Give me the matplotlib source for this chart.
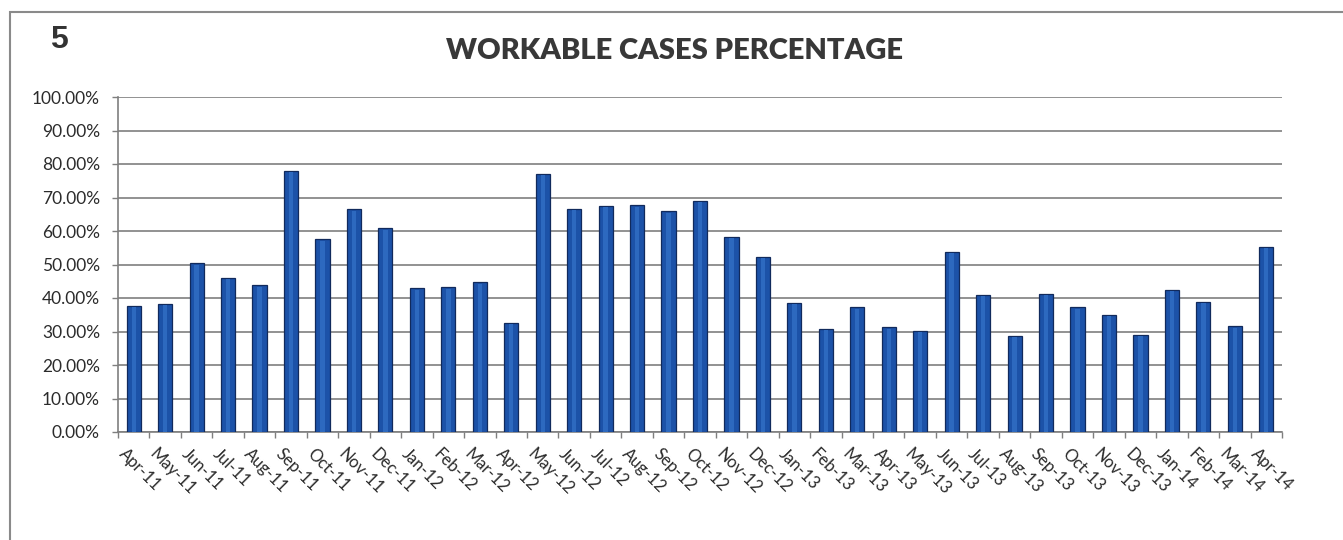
import matplotlib

matplotlib.use("Agg")

import matplotlib.pyplot as plt
from matplotlib.patches import Rectangle
from matplotlib.ticker import FixedLocator, PercentFormatter

months = [
    "Apr-11", "May-11", "Jun-11", "Jul-11", "Aug-11", "Sep-11", "Oct-11",
    "Nov-11", "Dec-11", "Jan-12", "Feb-12", "Mar-12", "Apr-12", "May-12",
    "Jun-12", "Jul-12", "Aug-12", "Sep-12", "Oct-12", "Nov-12", "Dec-12",
    "Jan-13", "Feb-13", "Mar-13", "Apr-13", "May-13", "Jun-13", "Jul-13",
    "Aug-13", "Sep-13", "Oct-13", "Nov-13", "Dec-13", "Jan-14", "Feb-14",
    "Mar-14", "Apr-14",
]
workable_pct = [
    37.6, 38.3, 50.3, 46.0, 43.8, 78.0, 57.5,
    66.5, 60.8, 42.9, 43.2, 44.7, 32.6, 77.0,
    66.7, 67.6, 67.7, 65.9, 69.1, 58.2, 52.3,
    38.5, 30.8, 37.2, 31.2, 30.2, 53.8, 41.0,
    28.8, 41.2, 37.2, 35.0, 29.0, 42.5, 38.8,
    31.5, 55.3,
]
y_ticks = [0, 10, 20, 30, 40, 50, 60, 70, 80, 90, 100]

W, H = 1343, 540
fig = plt.figure(figsize=(W / 100, H / 100), dpi=100)
fig.patch.set_facecolor("white")

# outer frame of the chart object
fig.add_artist(Rectangle((10 / W, -0.05), 1.2, 1 - 12 / H + 0.05,
                         transform=fig.transFigure, fill=False,
                         edgecolor="#8a8a8a", linewidth=1.5))

ax = fig.add_axes([118 / W, 1 - 432 / H, (1282 - 118) / W, (432 - 97) / H])

x = list(range(len(months)))
ax.bar(x, workable_pct, width=0.45, color="#1c52a8",
       edgecolor="#112a5c", linewidth=0.9, zorder=3)
# lighter highlight down the middle of each column
ax.bar(x, [v - 0.4 for v in workable_pct], width=0.14, color="#2d69bf",
       linewidth=0, zorder=4)

ax.set_xlim(-0.5, len(months) - 0.5)
ax.set_ylim(0, 100)
ax.set_yticks(y_ticks)
ax.yaxis.set_major_formatter(PercentFormatter(decimals=2))
ax.grid(axis="y", color="#7f7f7f", linewidth=1.2, zorder=0)

ax.set_xticks(x)
ax.set_xticklabels([])
ax.tick_params(axis="x", which="major", length=0)
ax.xaxis.set_minor_locator(FixedLocator([i - 0.5 for i in range(len(months) + 1)]))
ax.tick_params(axis="x", which="minor", length=4, color="#7f7f7f", width=1)
ax.tick_params(axis="y", length=4, color="#7f7f7f", width=1, pad=9,
               labelsize=12.5, labelcolor="#2b2b2b")
for lbl in ax.get_yticklabels():
    lbl.set_family(["Lato", "DejaVu Sans"])

for i, name in enumerate(months):
    ax.annotate(name, xy=(i, 0), xycoords=("data", "axes fraction"),
                xytext=(-5, -10), textcoords="offset points",
                rotation=-45, rotation_mode="anchor", ha="left", va="top",
                fontsize=12, color="#2b2b2b", family=["Lato", "DejaVu Sans"])

for side in ("top", "right"):
    ax.spines[side].set_visible(False)
for side in ("left", "bottom"):
    ax.spines[side].set_color("#7f7f7f")
    ax.spines[side].set_linewidth(1.2)

fig.text(674 / W, 1 - 51 / H, "WORKABLE CASES PERCENTAGE", ha="center",
         va="center", fontsize=21, fontweight="heavy", color="#383838",
         family=["Lato", "DejaVu Sans"])
fig.text(59 / W, 1 - 40 / H, "5", ha="center", va="center", fontsize=23,
         fontweight="bold", color="#333333",
         family=["Liberation Sans", "DejaVu Sans"])

fig.savefig("out.png", dpi=100)
